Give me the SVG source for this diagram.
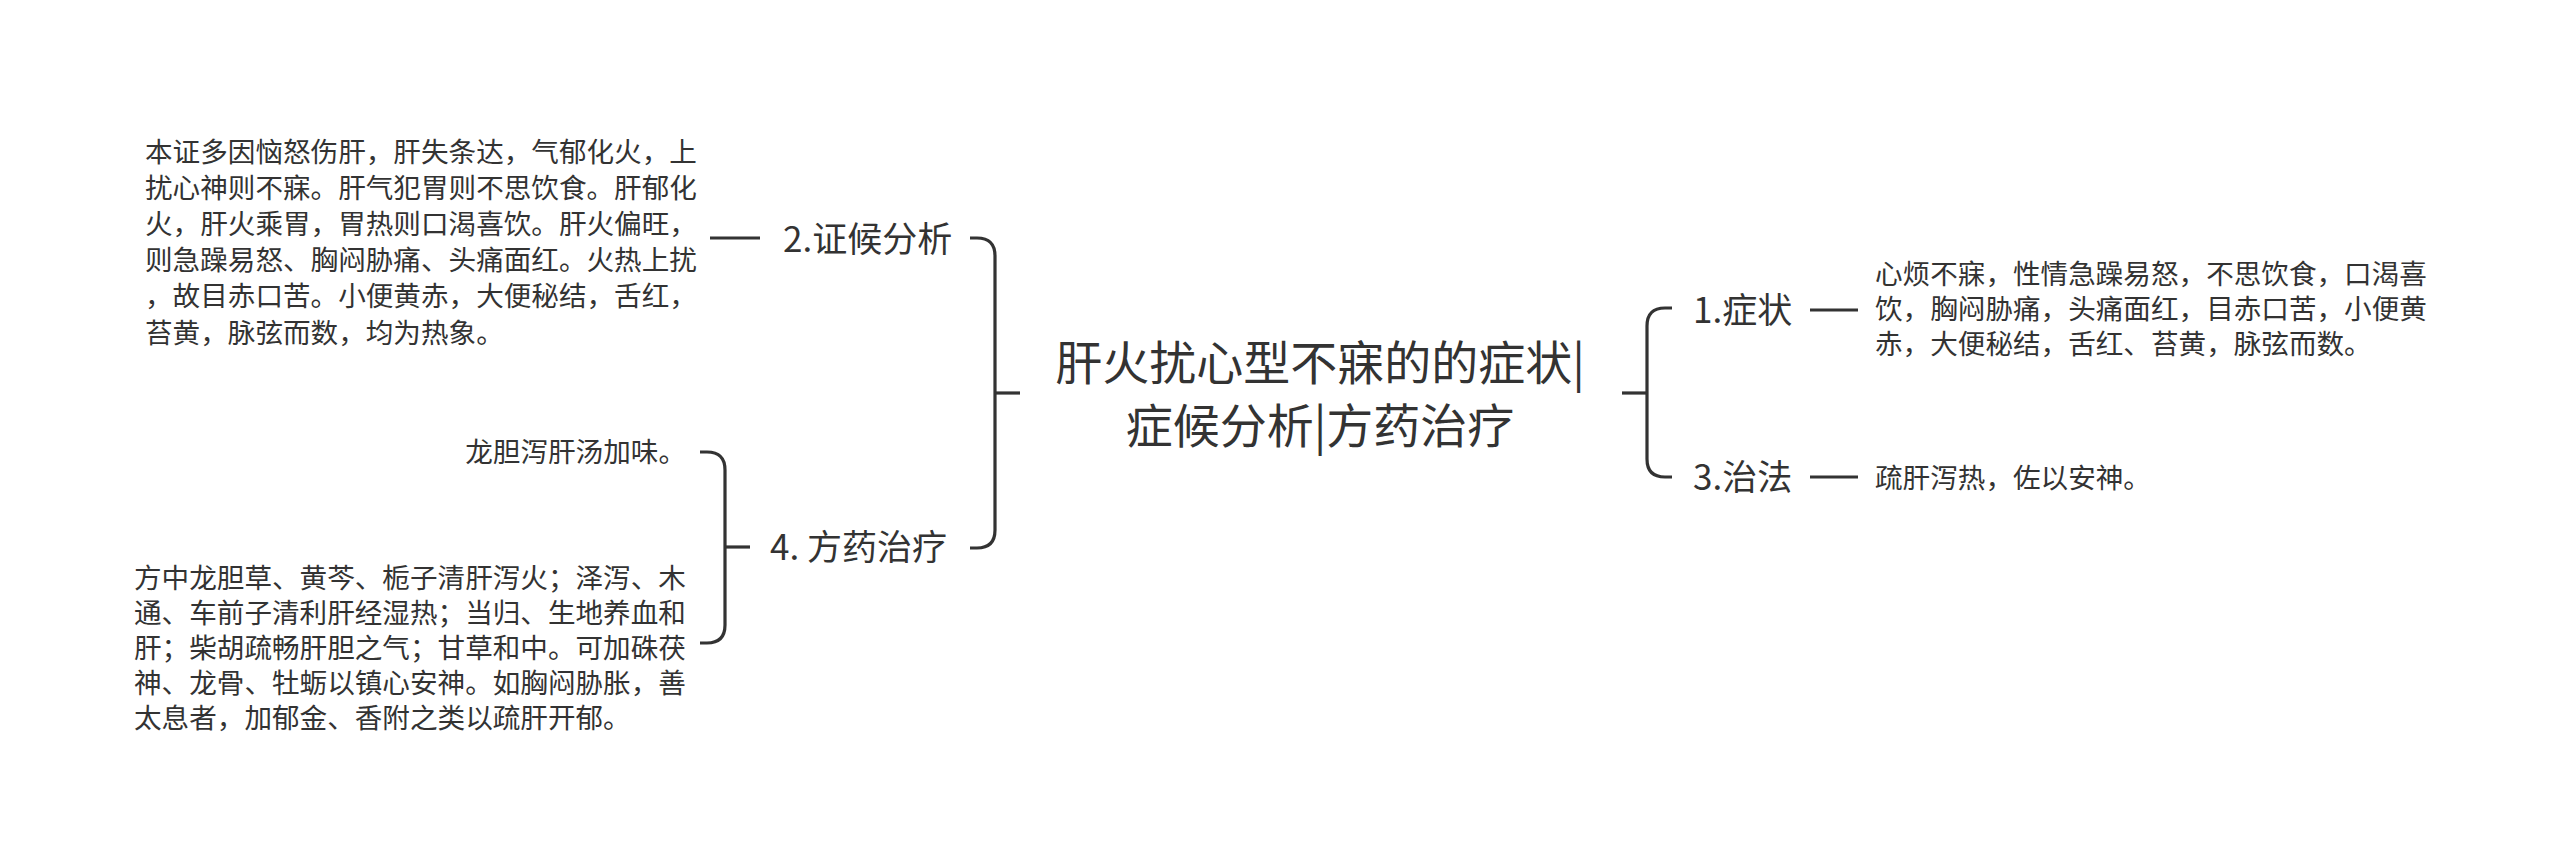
<svg xmlns="http://www.w3.org/2000/svg" width="2560" height="866" viewBox="0 0 2560 866">
<style>
.t{font-family:"Noto Sans CJK SC","Noto Sans",sans-serif;fill:#333}
.title{font-size:47px}
.l1{font-size:35px}
.b{font-size:27.6px}
.c{fill:none;stroke:#333;stroke-width:3.2}
</style>
<rect width="2560" height="866" fill="#ffffff"/>
<g id="connectors">
<path class="c" d="M970,238 H977 Q995,238 995,256 V530 Q995,548 977,548 H970"/>
<path class="c" d="M995,393 H1020"/>
<path class="c" d="M710,238 H760"/>
<path class="c" d="M700,452 H707 Q725,452 725,470 V625 Q725,643 707,643 H700"/>
<path class="c" d="M725,547 H750"/>
<path class="c" d="M1672,308 H1665 Q1647,308 1647,326 V459 Q1647,477 1665,477 H1672"/>
<path class="c" d="M1622,393 H1647"/>
<path class="c" d="M1810,310 H1858"/>
<path class="c" d="M1810,477 H1858"/>
</g>
<g id="root">
<text class="t title" x="1320" y="379.5" text-anchor="middle">肝火扰心型不寐的的症状|</text>
<text class="t title" x="1320" y="442.5" text-anchor="middle">症候分析|方药治疗</text>
</g>
<g id="n2">
<text class="t l1" x="783" y="252">2.证候分析</text>
</g>
<g id="n2-detail">
<text class="t b" x="145" y="161.5">本证多因恼怒伤肝，肝失条达，气郁化火，上</text>
<text class="t b" x="145" y="197.7">扰心神则不寐。肝气犯胃则不思饮食。肝郁化</text>
<text class="t b" x="145" y="233.9">火，肝火乘胃，胃热则口渴喜饮。肝火偏旺，</text>
<text class="t b" x="145" y="270.1">则急躁易怒、胸闷胁痛、头痛面红。火热上扰</text>
<text class="t b" x="145" y="306.3">，故目赤口苦。小便黄赤，大便秘结，舌红，</text>
<text class="t b" x="145" y="342.5">苔黄，脉弦而数，均为热象。</text>
</g>
<g id="n4">
<text class="t l1" x="770" y="560">4. 方药治疗</text>
</g>
<g id="n4-formula">
<text class="t b" x="686" y="462" text-anchor="end">龙胆泻肝汤加味。</text>
</g>
<g id="n4-detail">
<text class="t b" x="134" y="587.5">方中龙胆草、黄芩、栀子清肝泻火；泽泻、木</text>
<text class="t b" x="134" y="622.5">通、车前子清利肝经湿热；当归、生地养血和</text>
<text class="t b" x="134" y="657.5">肝；柴胡疏畅肝胆之气；甘草和中。可加硃茯</text>
<text class="t b" x="134" y="692.5">神、龙骨、牡蛎以镇心安神。如胸闷胁胀，善</text>
<text class="t b" x="134" y="727.5">太息者，加郁金、香附之类以疏肝开郁。</text>
</g>
<g id="n1">
<text class="t l1" x="1693" y="323">1.症状</text>
</g>
<g id="n1-detail">
<text class="t b" x="1875" y="283.5">心烦不寐，性情急躁易怒，不思饮食，口渴喜</text>
<text class="t b" x="1875" y="318.5">饮，胸闷胁痛，头痛面红，目赤口苦，小便黄</text>
<text class="t b" x="1875" y="353.5">赤，大便秘结，舌红、苔黄，脉弦而数。</text>
</g>
<g id="n3">
<text class="t l1" x="1693" y="490">3.治法</text>
</g>
<g id="n3-detail">
<text class="t b" x="1875" y="487.5">疏肝泻热，佐以安神。</text>
</g>
</svg>
